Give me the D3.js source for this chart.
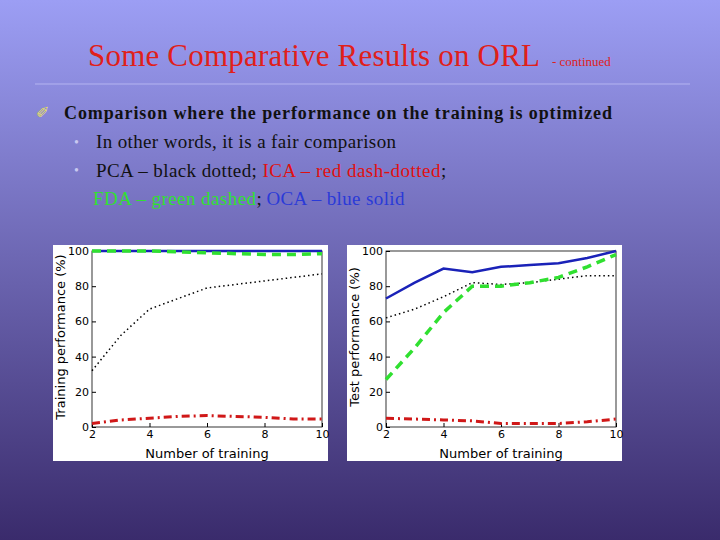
<!DOCTYPE html>
<html><head><meta charset="utf-8">
<script src="https://cdn.jsdelivr.net/npm/d3@7"></script>
<style>body{margin:0}</style></head>
<body><div id="chart"></div>
<script>
var xs = [2, 3, 4, 5, 6, 7, 8, 9, 10];
var trainPCA = [32, 52, 67, 73, 79, 81, 83, 85, 87];
var trainICA = [2, 4, 5, 6, 6.5, 6, 5.5, 4.5, 4.5];
var trainFDA = [100, 100, 100, 99.5, 99, 98.5, 98, 98, 98.5];
var trainOCA = [100, 100, 100, 100, 100, 100, 100, 100, 100];
var testPCA = [62, 67, 74, 82, 81, 82, 84, 86, 86];
var testICA = [5, 4.5, 4, 3.5, 2, 2, 2, 3, 4.5];
var testFDA = [27, 45, 65, 80, 80, 82, 85, 91, 98];
var testOCA = [73, 82, 90, 88, 91, 92, 93, 96, 100];
var xTicks = [2, 4, 6, 8, 10];
var yTicks = [0, 20, 40, 60, 80, 100];

var svg = d3.select("#chart").append("svg").attr("width", 720).attr("height", 540);
var grad = svg.append("defs").append("linearGradient").attr("id", "bg")
  .attr("x1", 0).attr("y1", 0).attr("x2", 0).attr("y2", 1);
grad.append("stop").attr("offset", "0%").attr("stop-color", "#9c9ef4");
grad.append("stop").attr("offset", "100%").attr("stop-color", "#3a2b6c");
svg.append("rect").attr("width", 720).attr("height", 540).attr("fill", "url(#bg)");

var serif = "'Liberation Serif', 'Times New Roman', 'DejaVu Serif', serif";
var title = svg.append("text").attr("x", 88).attr("y", 66)
  .attr("font-family", serif).attr("font-size", 31).attr("fill", "#e0201a");
title.append("tspan").attr("textLength", 452).text("Some Comparative Results on ORL");
title.append("tspan").attr("font-size", 13).attr("x", 552).text("- continued");
svg.append("line").attr("x1", 35).attr("x2", 690).attr("y1", 84).attr("y2", 84)
  .attr("stroke", "#b4b4f0").attr("stroke-width", 1);

svg.append("text").attr("x", 36).attr("y", 118).attr("font-family", serif)
  .attr("font-size", 16).attr("fill", "#e8e060").text("\u2710");
svg.append("text").attr("x", 64).attr("y", 119).attr("font-family", serif)
  .attr("font-size", 18).attr("font-weight", "bold").attr("fill", "#111")
  .attr("textLength", 548).text("Comparison where the performance on the training is optimized");
svg.append("text").attr("x", 74).attr("y", 147).attr("font-family", serif)
  .attr("font-size", 14).attr("fill", "#c8c8f0").text("\u2022");
svg.append("text").attr("x", 74).attr("y", 175).attr("font-family", serif)
  .attr("font-size", 14).attr("fill", "#c8c8f0").text("\u2022");
svg.append("text").attr("x", 96).attr("y", 148).attr("font-family", serif)
  .attr("font-size", 19).attr("fill", "#111").attr("textLength", 300).text("In other words, it is a fair comparison");
var l2 = svg.append("text").attr("x", 96).attr("y", 177).attr("font-family", serif).attr("font-size", 19);
l2.append("tspan").attr("fill", "#111").attr("textLength", 166).text("PCA \u2013 black dotted; ");
l2.append("tspan").attr("fill", "#e01010").attr("textLength", 178).text("ICA \u2013 red dash-dotted");
l2.append("tspan").attr("fill", "#111").text(";");
var l3 = svg.append("text").attr("x", 93).attr("y", 205).attr("font-family", serif).attr("font-size", 19);
l3.append("tspan").attr("fill", "#30e030").attr("textLength", 163).text("FDA \u2013 green dashed");
l3.append("tspan").attr("fill", "#111").text("; ");
l3.append("tspan").attr("fill", "#2a3ad8").attr("textLength", 138).text("OCA \u2013 blue solid");

function panel(bx, ylabel, pca, ica, fda, oca) {
  var g = svg.append("g");
  g.append("rect").attr("x", bx).attr("y", 245).attr("width", 275).attr("height", 216).attr("fill", "white");
  var x = d3.scaleLinear().domain([2, 10]).range([bx + 39, bx + 269]);
  var y = d3.scaleLinear().domain([0, 100]).range([427, 251]);
  g.append("rect").attr("x", bx + 39).attr("y", 251).attr("width", 230).attr("height", 176)
    .attr("fill", "none").attr("stroke", "#000").attr("stroke-width", 0.8);
  var ax = g.append("g").attr("transform", "translate(0,427)")
    .call(d3.axisBottom(x).tickValues(xTicks).tickSizeInner(-4).tickSizeOuter(0).tickPadding(3));
  var ay = g.append("g").attr("transform", "translate(" + (bx + 39) + ",0)")
    .call(d3.axisLeft(y).tickValues(yTicks).tickSizeInner(-4).tickSizeOuter(0).tickPadding(3));
  [ax, ay].forEach(function (a) {
    a.selectAll("text").attr("font-family", "DejaVu Sans, Arial, sans-serif").attr("font-size", 11).attr("fill", "#000");
    a.select(".domain").remove();
  });
  g.append("text").attr("x", bx + 154).attr("y", 458).attr("text-anchor", "middle")
    .attr("font-family", "DejaVu Sans, Arial, sans-serif").attr("font-size", 13).text("Number of training");
  g.append("text").attr("transform", "translate(" + (bx + 12) + ",337) rotate(-90)").attr("text-anchor", "middle")
    .attr("font-family", "DejaVu Sans, Arial, sans-serif").attr("font-size", 13).text(ylabel);
  var line = d3.line().x(function (d, i) { return x(xs[i]); }).y(function (d) { return y(d); });
  var series = [
    [pca, "#000", 1.5, "1.5,3"],
    [ica, "#d01818", 3, "8,4,2,4"],
    [oca, "#1a22b8", 2.5, null],
    [fda, "#30e030", 3.5, "9,6"]
  ];
  series.forEach(function (s) {
    g.append("path").datum(s[0]).attr("d", line).attr("fill", "none")
      .attr("stroke", s[1]).attr("stroke-width", s[2]).attr("stroke-dasharray", s[3]);
  });
}
panel(53, "Training performance (%)", trainPCA, trainICA, trainFDA, trainOCA);
panel(347, "Test performance (%)", testPCA, testICA, testFDA, testOCA);
</script></body></html>
